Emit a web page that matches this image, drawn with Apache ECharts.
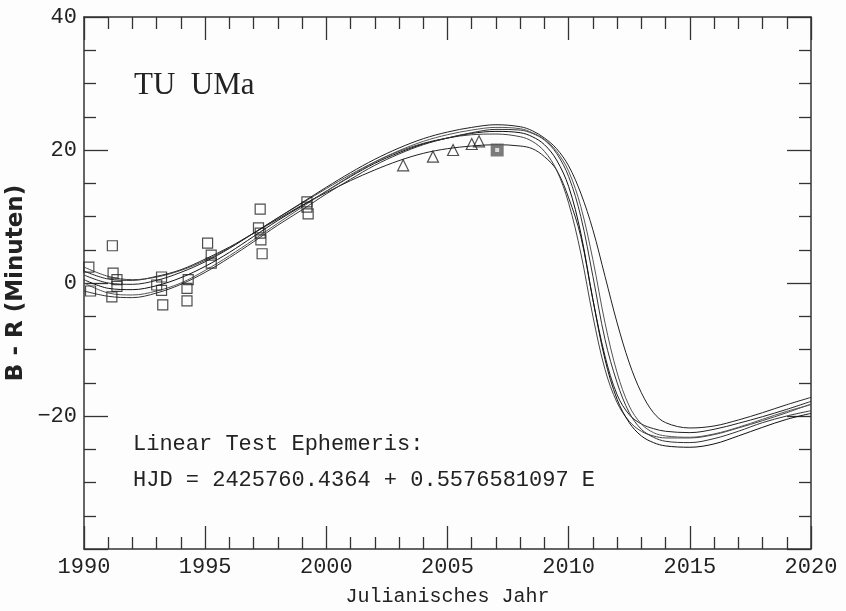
<!DOCTYPE html>
<html>
<head>
<meta charset="utf-8">
<script src="https://cdn.jsdelivr.net/npm/echarts@6/dist/echarts.min.js"></script>
<style>
  html, body { margin: 0; padding: 0; background: #fdfdfd; }
  #chart-container { width: 846px; height: 611px; }
</style>
</head>
<body>
<div id="chart-container"></div>
<script>
var dom = document.getElementById("chart-container");
var myChart = echarts.init(dom, null, { renderer: "canvas" });

// model curve sampling years
const years = [1990, 1991, 1992, 1993, 1994, 1995, 1996, 1997, 1998, 1999, 2000, 2001, 2002, 2003, 2004, 2005, 2006, 2007, 2008, 2008.5, 2009, 2009.5, 2010, 2010.5, 2011, 2011.5, 2012, 2012.5, 2013, 2013.5, 2014, 2015, 2016, 2017, 2018, 2019, 2020];

// model curves (B - R in minutes)
const curveA = [1.8, 0.6, 0.4, 1.0, 2.0, 3.6, 5.4, 7.5, 9.6, 11.7, 13.6, 15.4, 17.0, 18.4, 19.5, 20.2, 20.6, 20.8, 20.6, 20.2, 19.0, 17.0, 12.8, 7.0, -2.5, -11.0, -16.8, -19.8, -21.2, -21.9, -22.3, -22.5, -22.0, -21.1, -20.1, -19.0, -17.8];
const curveB = [2.4, 1.0, 0.5, 0.9, 1.9, 3.4, 5.3, 7.5, 9.8, 12.0, 14.2, 16.3, 18.2, 19.8, 21.0, 21.8, 22.3, 22.4, 22.0, 21.3, 19.8, 17.0, 12.0, 4.5, -5.0, -13.0, -18.0, -20.8, -22.3, -23.0, -23.3, -23.3, -22.8, -21.8, -20.7, -19.5, -18.2];
const curveC = [0.5, -0.8, -1.0, -0.4, 0.8, 2.5, 4.6, 7.0, 9.4, 11.6, 13.8, 16.0, 18.0, 19.6, 20.9, 21.8, 22.5, 22.8, 22.6, 22.0, 20.8, 18.5, 14.5, 7.5, -2.5, -11.5, -17.5, -21.0, -23.0, -24.0, -24.5, -24.7, -24.2, -23.0, -21.7, -20.5, -19.6];
const curveD = [-1.2, -2.0, -2.2, -1.5, -0.2, 1.6, 3.8, 6.2, 8.7, 11.0, 13.4, 15.6, 17.7, 19.4, 20.8, 21.8, 22.6, 23.1, 23.0, 22.5, 21.5, 19.5, 16.0, 10.0, 1.0, -8.5, -15.0, -19.5, -22.0, -23.2, -23.8, -24.0, -23.4, -22.3, -21.0, -20.0, -19.2];
const curveE = [0.0, -1.5, -1.8, -1.2, 0.0, 1.9, 4.1, 6.5, 9.0, 11.4, 13.8, 16.1, 18.2, 19.9, 21.3, 22.3, 23.0, 23.4, 23.2, 22.6, 21.6, 19.8, 16.8, 11.5, 3.5, -6.0, -13.5, -18.5, -21.2, -22.5, -23.0, -23.2, -22.7, -21.7, -20.5, -19.3, -18.3];
const curveF = [1.2, 0.0, -0.2, 0.4, 1.6, 3.2, 5.2, 7.5, 9.8, 12.1, 14.4, 16.6, 18.6, 20.3, 21.7, 22.7, 23.4, 23.8, 23.5, 22.9, 21.8, 20.2, 17.6, 13.5, 8.0, 1.0, -6.0, -12.0, -16.5, -19.5, -21.0, -21.8, -21.5, -20.6, -19.5, -18.3, -17.2];
const curves = [curveA, curveB, curveC, curveD, curveE, curveF];
const curveColors = ["#222", "#444", "#111", "#333", "#555", "#222"];

// observed minima (open squares)
const squareYears = [1990.2, 1990.27, 1991.17, 1991.2, 1991.36, 1991.36, 1991.15, 1993.2, 1993.0, 1993.2, 1993.25, 1994.3, 1994.25, 1994.25, 1995.1, 1995.25, 1995.25, 1997.27, 1997.2, 1997.27, 1997.3, 1997.35, 1999.2, 1999.2, 1999.25];
const squareValues = [2.4, -1.2, 5.6, 1.5, 0.5, -0.5, -2.1, 0.9, -0.3, -1.1, -3.3, 0.5, -0.8, -2.7, 6.0, 4.2, 3.0, 11.1, 8.3, 7.5, 6.5, 4.4, 12.2, 11.4, 10.4];

// triangles
const triangleYears = [2003.17, 2004.4, 2005.23, 2006.0, 2006.3];
const triangleValues = [17.7, 19.0, 20.0, 20.9, 21.3];

// filled square
const filledYears = [2007.05];
const filledValues = [20.0];

const xTickLabels = ["1990", "1995", "2000", "2005", "2010", "2015", "2020"];
const yTickLabels = ["", "\u221220", "0", "20", "40"];

function pairs(xs, ys) {
  return xs.map(function (x, i) { return [x, ys[i]]; });
}

const monoFont = "Liberation Mono";
const frameColor = "#333";

function xAxisBase(pos) {
  return {
    type: "value",
    position: pos,
    min: 1990,
    max: 2020,
    interval: 5,
    axisLine: { show: true, onZero: false, lineStyle: { color: frameColor, width: 1.5 } },
    axisTick: { show: true, inside: true, length: 23, lineStyle: { color: frameColor, width: 1.3 } },
    minorTick: { show: true, splitNumber: 5, length: 12, lineStyle: { color: frameColor, width: 1.3 } },
    splitLine: { show: false },
    axisLabel: {
      show: pos === "bottom",
      margin: 7,
      fontFamily: monoFont,
      fontSize: 22,
      color: "#222",
      formatter: function (v) { return xTickLabels[Math.round((v - 1990) / 5)]; },
    },
  };
}

function yAxisBase(pos) {
  return {
    type: "value",
    position: pos,
    min: -40,
    max: 40,
    interval: 20,
    axisLine: { show: true, onZero: false, lineStyle: { color: frameColor, width: 1.5 } },
    axisTick: { show: true, inside: true, length: 24, lineStyle: { color: frameColor, width: 1.3 } },
    minorTick: { show: true, splitNumber: 4, length: 12, lineStyle: { color: frameColor, width: 1.3 } },
    splitLine: { show: false },
    axisLabel: {
      show: pos === "left",
      margin: 7,
      fontFamily: monoFont,
      fontSize: 22,
      color: "#222",
      formatter: function (v) { return yTickLabels[Math.round((v + 40) / 20)]; },
    },
  };
}

var xBottom = xAxisBase("bottom");
xBottom.name = "Julianisches Jahr";
xBottom.nameLocation = "middle";
xBottom.nameGap = 38;
xBottom.nameMoveOverlap = false;
xBottom.nameTextStyle = { fontFamily: monoFont, fontSize: 20, color: "#222" };

var yLeft = yAxisBase("left");
yLeft.name = "B - R (Minuten)";
yLeft.nameLocation = "middle";
yLeft.nameGap = 56;
yLeft.nameMoveOverlap = false;
yLeft.nameTextStyle = { fontFamily: "DejaVu Sans", fontWeight: "bold", fontSize: 23, color: "#222" };

var series = curves.map(function (c, i) {
  return {
    type: "line",
    data: pairs(years, c),
    smooth: 0.35,
    symbol: "none",
    z: 2,
    lineStyle: { color: curveColors[i], width: 1 },
  };
});

series.push({
  type: "scatter",
  data: pairs(squareYears, squareValues),
  symbol: "rect",
  symbolSize: 10,
  z: 3,
  itemStyle: { color: "rgba(0,0,0,0)", borderColor: "#222", borderWidth: 1.2 },
});
series.push({
  type: "scatter",
  data: pairs(triangleYears, triangleValues),
  symbol: "triangle",
  symbolSize: 11,
  z: 3,
  itemStyle: { color: "rgba(0,0,0,0)", borderColor: "#222", borderWidth: 1.2 },
});
series.push({
  type: "scatter",
  data: pairs(filledYears, filledValues),
  symbol: "rect",
  symbolSize: 13,
  z: 4,
  itemStyle: { color: "#5a5a5a" },
});
series.push({
  type: "scatter",
  data: pairs(filledYears, filledValues),
  symbol: "rect",
  symbolSize: 4,
  z: 5,
  itemStyle: { color: "#f4f4f4" },
});

var option = {
  backgroundColor: "#fdfdfd",
  animation: false,
  grid: { left: 84, right: 35, top: 17, bottom: 62, outerBoundsMode: "none" },
  xAxis: [xBottom, xAxisBase("top")],
  yAxis: [yLeft, yAxisBase("right")],
  graphic: [
    { type: "text", left: 134, top: 70, style: { text: "TU  UMa", font: '31px "Liberation Serif"', fill: "#222" } },
    { type: "text", left: 133, top: 433, style: { text: "Linear Test Ephemeris:", font: '22px "Liberation Mono"', fill: "#222" } },
    { type: "text", left: 133, top: 469, style: { text: "HJD = 2425760.4364 + 0.5576581097 E", font: '22px "Liberation Mono"', fill: "#222" } },
  ],
  series: series,
};

myChart.setOption(option);
window.addEventListener("resize", myChart.resize);
</script>
</body>
</html>
